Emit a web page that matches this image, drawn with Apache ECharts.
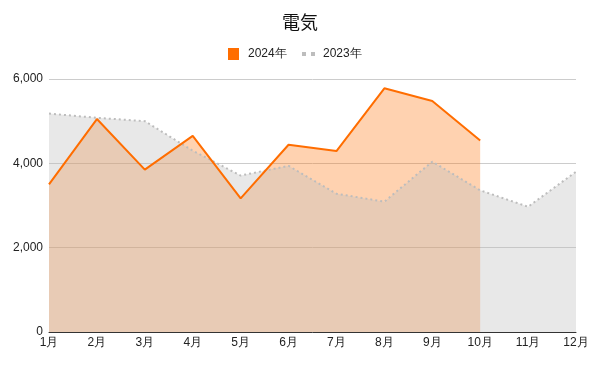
<!DOCTYPE html>
<html><head><meta charset="utf-8">
<script src="https://cdn.jsdelivr.net/npm/echarts@6/dist/echarts.min.js"></script>
<style>html,body{margin:0;padding:0;background:#fff}#c{width:600px;height:370px}</style>
</head><body><div id="c"></div>
<script>
var categories = ['1月','2月','3月','4月','5月','6月','7月','8月','9月','10月','11月','12月'];
var values2024 = [3500, 5050, 3850, 4650, 3170, 4440, 4290, 5780, 5480, 4540, null, null];
var values2023 = [5180, 5080, 5000, 4300, 3710, 3940, 3280, 3090, 4040, 3360, 2970, 3800];
var yTicks = [0, 2000, 4000, 6000];

var chart = echarts.init(document.getElementById('c'));
var font = 'Liberation Sans, Arial, sans-serif';
chart.setOption({
  animation: false,
  title: { text: '電気', left: 'center', top: 13, padding: 0,
    textStyle: { fontFamily: 'Noto Sans CJK JP', fontSize: 18, fontWeight: 'normal', color: '#111' } },
  legend: [
    { data: [{ name: '2024年', icon: 'rect', itemStyle: { color: '#ff6d00', opacity: 1 } }],
      left: 228, top: 48, padding: 0, itemWidth: 11, itemHeight: 12,
      textStyle: { fontFamily: font, fontSize: 12, color: '#222', padding: [0, 0, 0, 4] } },
    { data: [{ name: '2023年', icon: 'path://M0,0h4v4h-4zM9,0h4v4h-4z', itemStyle: { color: '#bdbdbd', opacity: 1 } }],
      left: 302, top: 48, padding: 0, itemWidth: 13, itemHeight: 4,
      textStyle: { fontFamily: font, fontSize: 12, color: '#222', padding: [0, 0, 0, 3] } }
  ],
  grid: { left: 49, right: 24, top: 79, bottom: 38 },
  xAxis: {
    type: 'category', data: categories, boundaryGap: false,
    axisLine: { lineStyle: { color: '#333', width: 1 } },
    axisTick: { show: false },
    axisLabel: { fontFamily: font, fontSize: 12, color: '#222', margin: 5, interval: 0 }
  },
  yAxis: {
    type: 'value', min: yTicks[0], max: yTicks[yTicks.length - 1], interval: 2000,
    axisLine: { show: false }, axisTick: { show: false },
    splitLine: { lineStyle: { color: '#cccccc' } },
    axisLabel: { fontFamily: font, fontSize: 12, color: '#222', margin: 6,
      formatter: function (v) { return v.toLocaleString('en-US'); } }
  },
  series: [
    { name: '2024年', type: 'line', data: values2024, symbol: 'none',
      lineStyle: { width: 0, opacity: 0 }, itemStyle: { color: '#ff6d00' },
      areaStyle: { color: '#ff6d00', opacity: 0.31 } },
    { name: '2023年', type: 'line', data: values2023, symbol: 'none',
      lineStyle: { width: 2, type: [2, 3], color: '#bdbdbd' }, itemStyle: { color: '#bdbdbd' },
      areaStyle: { color: '#bdbdbd', opacity: 0.35 } },
    { name: '2024年', type: 'line', data: values2024, symbol: 'none',
      lineStyle: { width: 2, color: '#ff6d00' }, itemStyle: { color: '#ff6d00' } }
  ]
});
</script></body></html>
